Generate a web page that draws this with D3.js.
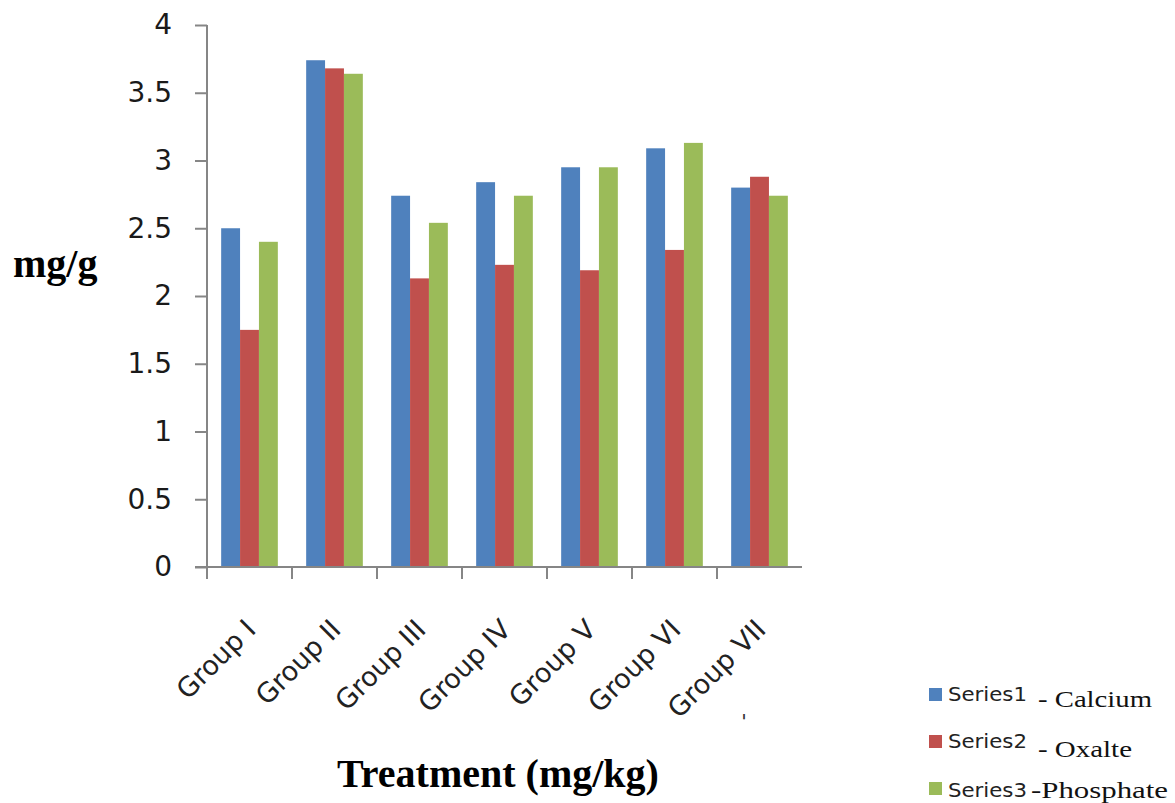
<!DOCTYPE html>
<html>
<head>
<meta charset="utf-8">
<script src="https://cdn.jsdelivr.net/npm/d3@7"></script>
<style>
  html, body { margin: 0; padding: 0; background: #fff; }
  svg { display: block; }
</style>
</head>
<body>
<div id="chart"></div>
<script>
const groups = ["Group I", "Group II", "Group III", "Group IV", "Group V", "Group VI", "Group VII"];
const seriesKeys = ["Series1", "Series2", "Series3"];
const seriesNames = ["- Calcium", "- Oxalte", "-Phosphate"];
const calcium   = [2.50, 3.74, 2.74, 2.84, 2.95, 3.09, 2.80];
const oxalate   = [1.75, 3.68, 2.13, 2.23, 2.19, 2.34, 2.88];
const phosphate = [2.40, 3.64, 2.54, 2.74, 2.95, 3.13, 2.74];
const yTicks = [0, 0.5, 1, 1.5, 2, 2.5, 3, 3.5, 4];
const colors = ["#4F81BD", "#C0504D", "#9BBB59"];

const seriesValues = [calcium, oxalate, phosphate];
const table = groups.map((g, i) => ({
  group: g,
  values: seriesKeys.map((k, j) => ({ key: k, value: seriesValues[j][i] }))
}));

const W = 1175, H = 803;
const svg = d3.select("#chart").append("svg").attr("width", W).attr("height", H);

const x0 = 207, x1 = 802, yTop = 25, yBot = 567;
const x = d3.scaleBand().domain(groups).range([x0, x1]).padding(0);
const xi = d3.scaleBand().domain(seriesKeys).range([0, x.bandwidth()]).paddingInner(0).paddingOuter(0.75);
const y = d3.scaleLinear().domain([0, 4]).range([yBot, yTop]);
const color = d3.scaleOrdinal().domain(seriesKeys).range(colors);

const axisColor = "#868686";
const sans = "'DejaVu Sans', sans-serif";
const serif = "'Liberation Serif', 'Times New Roman', serif";

// bars
const g = svg.append("g");
g.selectAll("g.grp").data(table).join("g")
  .attr("class", "grp")
  .attr("transform", d => `translate(${x(d.group)},0)`)
  .selectAll("rect").data(d => d.values).join("rect")
  .attr("x", d => xi(d.key))
  .attr("y", d => y(d.value))
  .attr("width", xi.bandwidth())
  .attr("height", d => y(0) - y(d.value))
  .attr("fill", d => color(d.key));

// y axis
const yAxis = d3.axisLeft(y).tickValues(yTicks).tickSize(12).tickPadding(23)
  .tickFormat(d => String(d));
const ya = svg.append("g").attr("transform", `translate(${x0},0)`).call(yAxis);
ya.select(".domain").attr("stroke", axisColor).attr("stroke-width", 2)
  .attr("d", `M0,${yTop}V${yBot}`);
ya.selectAll(".tick line").attr("stroke", axisColor).attr("stroke-width", 2);
ya.selectAll(".tick text").attr("font-family", sans).attr("font-size", 28).attr("fill", "#1a1a1a");

// x axis
const xa = svg.append("g").attr("transform", `translate(0,${yBot})`);
xa.append("line").attr("x1", x0 - 12).attr("x2", x1).attr("y1", 0).attr("y2", 0)
  .attr("stroke", axisColor).attr("stroke-width", 2);
xa.selectAll("line.tick").data(groups).join("line")
  .attr("class", "tick")
  .attr("x1", d => x(d)).attr("x2", d => x(d))
  .attr("y1", 0).attr("y2", 12)
  .attr("stroke", axisColor).attr("stroke-width", 2);
xa.selectAll("text.lbl").data(groups).join("text")
  .attr("class", "lbl")
  .attr("transform", d => `translate(${x(d) + x.bandwidth() / 2 + 8},${64}) rotate(-45)`)
  .attr("text-anchor", "end")
  .attr("font-family", sans).attr("font-size", 27).attr("fill", "#222")
  .text(d => d);
// stray mark under last group
svg.append("text")
  .attr("x", 744).attr("y", 728)
  .attr("text-anchor", "middle")
  .attr("font-family", sans).attr("font-size", 20).attr("fill", "#333")
  .text("'");

// axis titles
svg.append("text").attr("x", 13).attr("y", 277)
  .attr("font-family", serif).attr("font-weight", "bold").attr("font-size", 40).attr("fill", "#000")
  .text("mg/g");
svg.append("text").attr("x", 498).attr("y", 787)
  .attr("text-anchor", "middle")
  .attr("font-family", serif).attr("font-weight", "bold").attr("font-size", 40).attr("fill", "#000")
  .text("Treatment (mg/kg)");

// legend
const legendRows = [
  { key: "Series1", name: seriesNames[0], sq: 688, base: 701, nameBase: 707, nameX: 1038, nameW: 114 },
  { key: "Series2", name: seriesNames[1], sq: 735, base: 748, nameBase: 757, nameX: 1038, nameW: 94 },
  { key: "Series3", name: seriesNames[2], sq: 782, base: 797, nameBase: 798, nameX: 1031, nameW: 137 }
];
const lg = svg.append("g");
legendRows.forEach(r => {
  lg.append("rect").attr("x", 929).attr("y", r.sq).attr("width", 13).attr("height", 13).attr("fill", color(r.key));
  lg.append("text").attr("x", 948).attr("y", r.base)
    .attr("font-family", sans).attr("font-size", 20).attr("fill", "#222")
    .attr("textLength", 79).attr("lengthAdjust", "spacingAndGlyphs")
    .text(r.key);
  lg.append("text").attr("x", r.nameX).attr("y", r.nameBase)
    .attr("font-family", serif).attr("font-size", 24).attr("fill", "#111")
    .attr("textLength", r.nameW).attr("lengthAdjust", "spacingAndGlyphs")
    .text(r.name);
});
</script>
</body>
</html>
